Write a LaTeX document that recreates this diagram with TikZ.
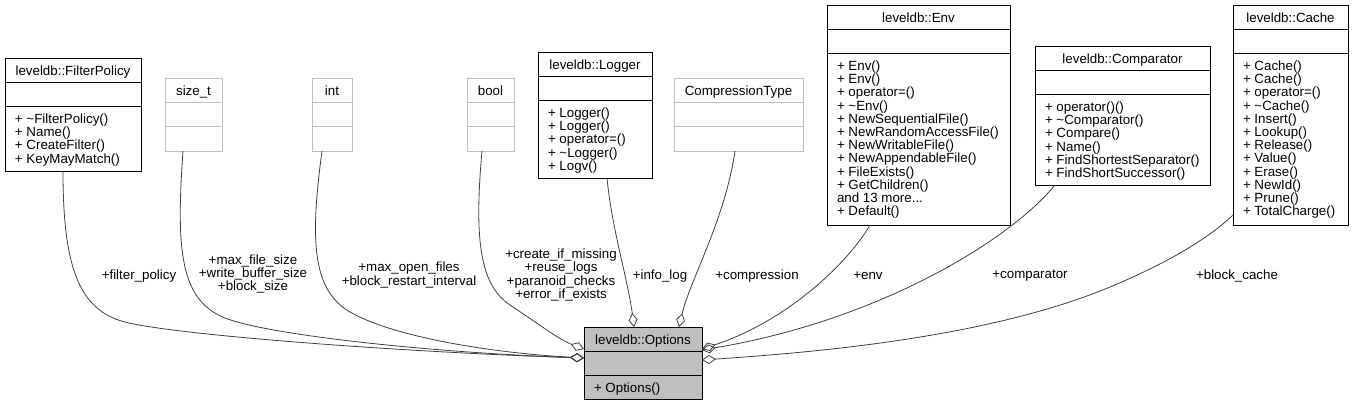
\documentclass[tikz,border=0pt]{standalone}
\usepackage{fontspec}
\setmainfont{Liberation Sans}
\usetikzlibrary{arrows.meta}
\definecolor{edgegray}{RGB}{64,64,64}
\definecolor{ugray}{RGB}{191,191,191}
\tikzset{
  cls/.style={draw=black, line width=1pt, inner sep=0pt, outer sep=0pt},
  undoc/.style={draw=ugray, line width=1pt, inner sep=0pt, outer sep=0pt},
  cur/.style={draw=black, fill=ugray, line width=1pt, inner sep=0pt, outer sep=0pt},
  txt/.style={inner sep=0pt, outer sep=0pt, font=\fontsize{13.33}{13.2}\selectfont},
  conn/.style={draw=edgegray, line width=0.8pt, -{Diamond[open, length=14pt, width=9pt]}},
}
\newcommand{\umlbox}[8][cls]{%
  \node[#1, minimum width={(#5-#3)*1pt}, minimum height={(#6-#4)*1pt}, anchor=north west] (#2) at (#3,#4) {};
  \draw[#1] ([yshift=-24.5pt]#2.north west) -- ([yshift=-24.5pt]#2.north east);
  \draw[#1] ([yshift=-48pt]#2.north west) -- ([yshift=-48pt]#2.north east);
  \node[txt, anchor=base] (#2-title) at ([yshift=-17pt]#2.north) {#7};
  \node[txt, anchor=north west, align=left] (#2-ops) at ([xshift=10pt, yshift=-55.5pt]#2.north west) {\rule{0pt}{10pt}#8};
}
\begin{document}
\begin{tikzpicture}[x=1pt, y=-1pt]
\useasboundingbox (0,0) rectangle (1353,405);

\umlbox{fp}{5}{58}{141}{171}{leveldb::FilterPolicy}{+ {\char"7E}FilterPolicy()\\+ Name()\\+ CreateFilter()\\+ KeyMayMatch()}
\umlbox[undoc]{szt}{165}{78}{222}{151}{size\_t}{}
\umlbox[undoc]{intt}{312}{78}{352}{151}{int}{}
\umlbox[undoc]{boolt}{467}{78}{514}{151}{bool}{}
\umlbox{logger}{538}{52}{652}{178}{leveldb::Logger}{+ Logger()\\+ Logger()\\+ operator=()\\+ {\char"7E}Logger()\\+ Logv()}
\umlbox[undoc]{ctype}{674}{78}{803}{151}{CompressionType}{}
\umlbox{env}{827}{5}{1010}{225}{leveldb::Env}{+ Env()\\+ Env()\\+ operator=()\\+ {\char"7E}Env()\\+ NewSequentialFile()\\+ NewRandomAccessFile()\\+ NewWritableFile()\\+ NewAppendableFile()\\+ FileExists()\\+ GetChildren()\\and 13 more...\\+ Default()}
\umlbox{cmp}{1035}{46}{1210}{185}{leveldb::Comparator}{+ operator()()\\+ {\char"7E}Comparator()\\+ Compare()\\+ Name()\\+ FindShortestSeparator()\\+ FindShortSuccessor()}
\umlbox{cache}{1233}{5}{1348}{225}{leveldb::Cache}{+ Cache()\\+ Cache()\\+ operator=()\\+ {\char"7E}Cache()\\+ Insert()\\+ Lookup()\\+ Release()\\+ Value()\\+ Erase()\\+ NewId()\\+ Prune()\\+ TotalCharge()}
\umlbox[cur]{opt}{584}{327}{702}{399}{leveldb::Options}{+ Options()}

% connectors
\draw[conn] ([xshift=-10pt]fp.south) .. controls (63,265) and (78,310) .. (125,322) .. controls (175,335) and (400,352) .. ([yshift=5pt]opt.west);
\draw[conn] ([xshift=-10.5pt]szt.south) .. controls (176,250) and (180,300) .. (225,318) .. controls (265,334) and (420,352) .. ([yshift=5pt]opt.west);
\draw[conn] ([xshift=-10pt]intt.south) .. controls (310,240) and (312,290) .. (350,312) .. controls (390,335) and (480,352) .. ([yshift=5pt]opt.west);
\draw[conn] ([xshift=-8.5pt]boolt.south) .. controls (474,240) and (480,285) .. (510,305) .. controls (540,325) and (560,340) .. ([yshift=14pt]opt.west);
\draw[conn] ([xshift=12pt]logger.south) .. controls (612,230) and (628,280) .. ([xshift=-9pt]opt.north);
\draw[conn] ([xshift=-3.5pt]ctype.south) .. controls (725,220) and (690,280) .. ([xshift=36pt]opt.north);
\draw[conn] ([xshift=-48.5pt]env.south) .. controls (850,260) and (790,320) .. ([yshift=14pt]opt.east);
\draw[conn] ([xshift=-67.5pt]cmp.south) .. controls (1010,240) and (880,320) .. ([yshift=13pt]opt.east);
\draw[conn] ([yshift=10pt]cache.south west) .. controls (1210,237) and (1170,262) .. (1110,287) .. controls (990,337) and (820,352) .. ([yshift=3pt]opt.east);

% labels
\node[txt] (l-fp) at (139,276) {+filter\_policy};
\node[txt, align=center] (l-szt) at (253,274) {+max\_file\_size\\+write\_buffer\_size\\+block\_size};
\node[txt, align=center] (l-int) at (409,275) {+max\_open\_files\\+block\_restart\_interval};
\node[txt, align=center] (l-bool) at (561,275) {+create\_if\_missing\\+reuse\_logs\\+paranoid\_checks\\+error\_if\_exists};
\node[txt] (l-log) at (660,276) {+info\_log};
\node[txt] (l-ct) at (757,276) {+compression};
\node[txt] (l-env) at (868,276) {+env};
\node[txt] (l-cmp) at (1030,276) {+comparator};
\node[txt] (l-cache) at (1237,276) {+block\_cache};
\end{tikzpicture}
\end{document}
